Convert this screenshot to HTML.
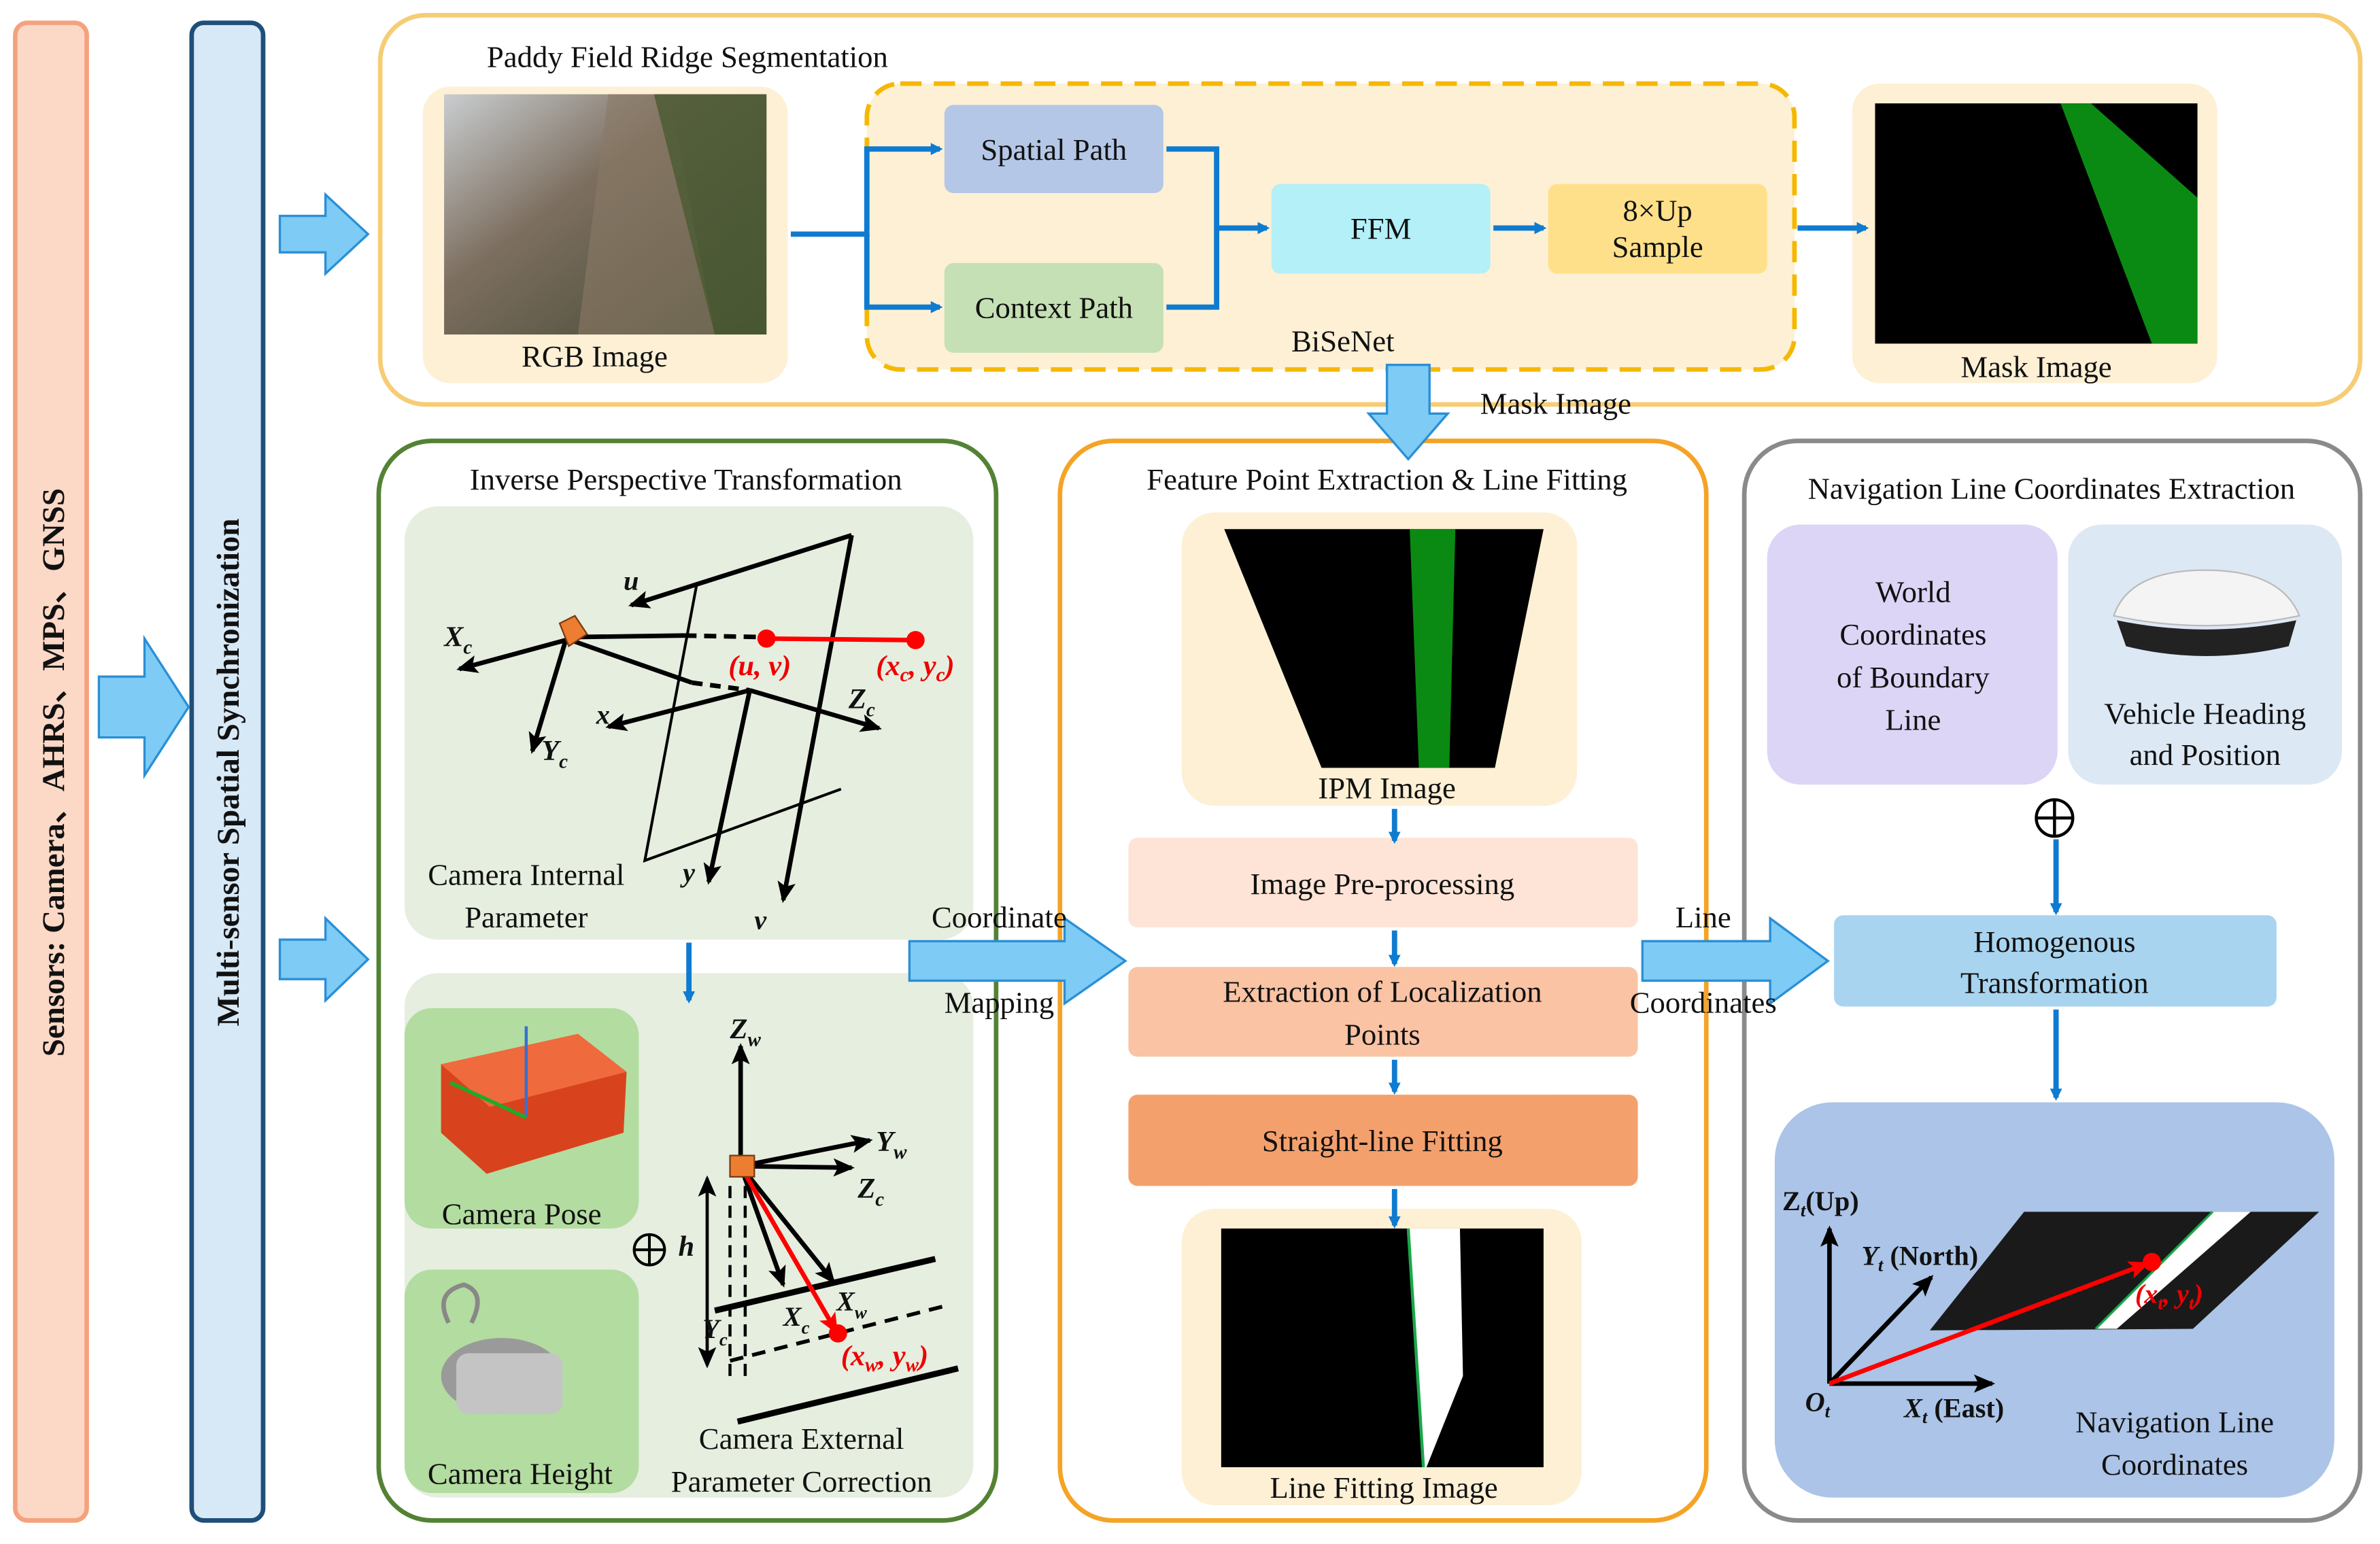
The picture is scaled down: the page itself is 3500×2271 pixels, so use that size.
<!DOCTYPE html>
<html><head><meta charset="utf-8"><style>
html,body{margin:0;padding:0;background:#fff;}
svg{display:block;font-family:"Liberation Serif","Times New Roman",Times,serif;}
svg text{font-family:"Liberation Serif","Times New Roman",Times,serif;fill:#111;}
.t{font-size:20px;text-anchor:middle;}
.b{font-weight:bold;font-style:italic;}
</style></head><body>
<svg width="3500" height="2271" viewBox="0 0 1565 1015.5" xmlns="http://www.w3.org/2000/svg">
<defs>
<marker id="ab" markerWidth="8" markerHeight="8" refX="6" refY="4" orient="auto" markerUnits="userSpaceOnUse"><path d="M0,0 L8,4 L0,8 z" fill="#0f7bd0"/></marker>
<marker id="ak" markerWidth="14" markerHeight="12" refX="12" refY="6" orient="auto" markerUnits="userSpaceOnUse"><path d="M0,0 L14,6 L0,12 L3,6 z" fill="#000"/></marker>
<marker id="ar" markerWidth="14" markerHeight="12" refX="12" refY="6" orient="auto" markerUnits="userSpaceOnUse"><path d="M0,0 L14,6 L0,12 L3,6 z" fill="#f00"/></marker>
<linearGradient id="rgb" x1="0" y1="0" x2="1" y2="1"><stop offset="0" stop-color="#c9cdd0"/><stop offset="0.4" stop-color="#7d6f60"/><stop offset="0.7" stop-color="#5e5a48"/><stop offset="1" stop-color="#3e4a30"/></linearGradient>
</defs>
<rect x="10" y="15" width="47" height="985" rx="8" fill="#fcd8c6" stroke="#f4a27e" stroke-width="3"/>
<text transform="translate(42,508) rotate(-90)" text-anchor="middle" font-size="21" font-weight="bold">Sensors: Camera、AHRS、MPS、GNSS</text>
<rect x="126" y="15" width="47" height="985" rx="8" fill="#d7e8f6" stroke="#1f4e79" stroke-width="3"/>
<text transform="translate(157,508) rotate(-90)" text-anchor="middle" font-size="21" font-weight="bold">Multi-sensor Spatial Synchronization</text>
<rect x="250" y="10" width="1302" height="256" rx="30" fill="#fff" stroke="#f6cd75" stroke-width="3"/>
<text x="452" y="44" class="t">Paddy Field Ridge Segmentation</text>
<rect x="278" y="57" width="240" height="195" rx="18" fill="#fdf0d5"/>
<rect x="292" y="62" width="212" height="158" fill="url(#rgb)"/>
<path d="M400,62 L440,62 L470,220 L380,220 z" fill="#8a7a66" opacity="0.6"/>
<path d="M430,62 L504,62 L504,220 L470,220 z" fill="#4a5a32" opacity="0.8"/>
<text x="391" y="241" class="t">RGB Image</text>
<rect x="570" y="55" width="610" height="188" rx="22" fill="#fdf0d5" stroke="#f5b800" stroke-width="3" stroke-dasharray="14,8"/>
<rect x="621" y="69" width="144" height="58" rx="6" fill="#b4c7e7"/>
<text x="693" y="105" class="t" font-size="19">Spatial Path</text>
<rect x="621" y="173" width="144" height="59" rx="6" fill="#c5e0b4"/>
<text x="693" y="209" class="t" font-size="19">Context Path</text>
<rect x="836" y="121" width="144" height="59" rx="6" fill="#b3f0f8"/>
<text x="908" y="157" class="t" font-size="19">FFM</text>
<rect x="1018" y="121" width="144" height="59" rx="6" fill="#ffe08a"/>
<text x="1090" y="145" class="t" font-size="19">8×Up</text>
<text x="1090" y="169" class="t" font-size="19">Sample</text>
<text x="883" y="231" class="t">BiSeNet</text>
<rect x="1218" y="55" width="240" height="197" rx="18" fill="#fdf0d5"/>
<rect x="1233" y="68" width="212" height="158" fill="#000"/>
<path d="M1355,68 L1375,68 L1445,130 L1445,226 L1415,226 z" fill="#0a8a12"/>
<text x="1339" y="248" class="t">Mask Image</text>
<g stroke="#0f7bd0" stroke-width="3.5" fill="none">
<path d="M520,154 H570 V98 H618" marker-end="url(#ab)"/>
<path d="M570,154 V202 H618" marker-end="url(#ab)"/>
<path d="M767,98 H800 V202 H767"/>
<path d="M800,150 H833" marker-end="url(#ab)"/>
<path d="M982,150 H1015" marker-end="url(#ab)"/>
<path d="M1182,150 H1227" marker-end="url(#ab)"/>
</g>
<text x="1023" y="272" class="t">Mask Image</text>
<rect x="249" y="290" width="406" height="710" rx="35" fill="#fff" stroke="#548235" stroke-width="3"/>
<text x="451" y="322" class="t">Inverse Perspective Transformation</text>
<rect x="266" y="333" width="374" height="285" rx="22" fill="#e6eedf"/>
<g stroke="#000" stroke-width="3" fill="none">
<path d="M560,352 L415,398" marker-end="url(#ak)"/>
<path d="M560,352 L515,592" marker-end="url(#ak)"/>
<path d="M458,385 L424,566 L553,519" stroke-width="1.8"/>
<path d="M493,454 L400,478" marker-end="url(#ak)"/>
<path d="M493,454 L466,580" marker-end="url(#ak)"/>
<path d="M372,421 L302,440" marker-end="url(#ak)"/>
<path d="M372,421 L350,494" marker-end="url(#ak)"/>
<path d="M378,419 L450,418"/>
<path d="M450,418 L500,419" stroke-dasharray="8,5"/>
<path d="M378,422 L455,449" />
<path d="M455,449 L493,454" stroke-dasharray="7,5"/>
<path d="M493,454 L578,479" marker-end="url(#ak)"/>
</g>
<path d="M368,410 L378,405 L386,417 L374,425 z" fill="#ed7d31" stroke="#7a3a10"/>
<line x1="504" y1="420" x2="602" y2="421" stroke="#f00" stroke-width="3"/>
<circle cx="504" cy="420" r="6" fill="#f00"/><circle cx="602" cy="421" r="6" fill="#f00"/>
<text x="479" y="444" font-size="19" class="b" style="fill:#e00">(u, v)</text>
<text x="576" y="444" font-size="19" class="b" style="fill:#e00">(x<tspan font-size="13" dy="4">c</tspan><tspan dy="-4">, y</tspan><tspan font-size="13" dy="4">c</tspan><tspan dy="-4">)</tspan></text>
<text x="410" y="388" font-size="18" class="b">u</text>
<text x="292" y="425" font-size="19" class="b">X<tspan font-size="13" dy="5">c</tspan></text>
<text x="356" y="500" font-size="19" class="b">Y<tspan font-size="13" dy="5">c</tspan></text>
<text x="392" y="476" font-size="18" class="b">x</text>
<text x="558" y="466" font-size="19" class="b">Z<tspan font-size="13" dy="5">c</tspan></text>
<text x="449" y="580" font-size="18" class="b">y</text>
<text x="496" y="611" font-size="18" class="b">v</text>
<text x="346" y="582" class="t">Camera Internal</text>
<text x="346" y="610" class="t">Parameter</text>
<rect x="266" y="640" width="374" height="345" rx="22" fill="#e6eedf"/>
<line x1="453" y1="620" x2="453" y2="658" stroke="#0f7bd0" stroke-width="3.5" marker-end="url(#ab)"/>
<rect x="266" y="663" width="154" height="145" rx="18" fill="#b3dca0"/>
<path d="M290,700 L380,680 L412,705 L410,745 L320,772 L290,745 z" fill="#d8431e"/>
<path d="M290,700 L380,680 L412,705 L322,728 z" fill="#ef6a3c"/>
<line x1="346" y1="675" x2="346" y2="735" stroke="#3a6fd0" stroke-width="2"/>
<line x1="346" y1="735" x2="296" y2="712" stroke="#1faa2a" stroke-width="2.5"/>
<text x="343" y="805" class="t">Camera Pose</text>
<rect x="266" y="835" width="154" height="147" rx="18" fill="#b3dca0"/>
<ellipse cx="330" cy="905" rx="40" ry="25" fill="#9a9a9a"/>
<rect x="300" y="890" width="70" height="40" rx="8" fill="#c4c4c4"/>
<path d="M295,870 q-10,-20 10,-25 q15,5 5,25" fill="none" stroke="#888" stroke-width="3"/>
<text x="342" y="976" class="t">Camera Height</text>
<circle cx="427" cy="822" r="10" fill="none" stroke="#000" stroke-width="1.8"/>
<path d="M417,822 H437 M427,812 V832" stroke="#000" stroke-width="1.8"/>
<g stroke="#000" stroke-width="3" fill="none">
<path d="M487,767 L487,688" marker-end="url(#ak)"/>
<path d="M487,767 L572,750" marker-end="url(#ak)"/>
<path d="M487,767 L560,768" marker-end="url(#ak)"/>
<path d="M487,767 L515,845" marker-end="url(#ak)"/>
<path d="M487,767 L548,843" marker-end="url(#ak)"/>
<path d="M465,775 L465,898" stroke-width="2" marker-end="url(#ak)"/>
<path d="M465,898 L465,775" stroke-width="2" marker-end="url(#ak)"/>
<path d="M480,780 L480,905" stroke-dasharray="8,5" stroke-width="2"/>
<path d="M490,780 L490,905" stroke-dasharray="8,5" stroke-width="2"/>
<path d="M470,862 L615,828" stroke-width="4"/>
<path d="M480,895 L625,858" stroke-dasharray="9,6" stroke-width="2.5"/>
<path d="M485,935 L630,900" stroke-width="4"/>
</g>
<line x1="487" y1="767" x2="550" y2="876" stroke="#f00" stroke-width="3" marker-end="url(#ar)"/>
<rect x="480" y="760" width="16" height="14" fill="#ed7d31" stroke="#7a3a10"/>
<circle cx="551" cy="877" r="6" fill="#f00"/>
<text x="480" y="683" font-size="19" class="b">Z<tspan font-size="13" dy="5">w</tspan></text>
<text x="576" y="757" font-size="19" class="b">Y<tspan font-size="13" dy="5">w</tspan></text>
<text x="564" y="788" font-size="19" class="b">Z<tspan font-size="13" dy="5">c</tspan></text>
<text x="446" y="826" font-size="19" class="b">h</text>
<text x="462" y="880" font-size="18" class="b">Y<tspan font-size="12" dy="5">c</tspan></text>
<text x="515" y="872" font-size="18" class="b">X<tspan font-size="12" dy="5">c</tspan></text>
<text x="550" y="862" font-size="18" class="b">X<tspan font-size="12" dy="5">w</tspan></text>
<text x="553" y="898" font-size="19" class="b" style="fill:#e00">(x<tspan font-size="13" dy="4">w</tspan><tspan dy="-4">, y</tspan><tspan font-size="13" dy="4">w</tspan><tspan dy="-4">)</tspan></text>
<text x="527" y="953" class="t">Camera External</text>
<text x="527" y="981" class="t">Parameter Correction</text>
<rect x="697" y="290" width="425" height="710" rx="35" fill="#fff" stroke="#f5a326" stroke-width="3"/>
<text x="912" y="322" class="t">Feature Point Extraction &amp; Line Fitting</text>
<rect x="777" y="337" width="260" height="193" rx="22" fill="#fdf0d5"/>
<path d="M805,348 L1015,348 L983,505 L869,505 z" fill="#000"/>
<path d="M927,348 L957,348 L953,505 L933,505 z" fill="#0a8a12"/>
<text x="912" y="525" class="t">IPM Image</text>
<rect x="742" y="551" width="335" height="59" rx="6" fill="#fde4d6"/>
<text x="909" y="588" class="t">Image Pre-processing</text>
<rect x="742" y="636" width="335" height="59" rx="6" fill="#f9c3a4"/>
<text x="909" y="659" class="t">Extraction of Localization</text>
<text x="909" y="687" class="t">Points</text>
<rect x="742" y="720" width="335" height="60" rx="6" fill="#f4a06d"/>
<text x="909" y="757" class="t">Straight-line Fitting</text>
<rect x="777" y="795" width="263" height="195" rx="22" fill="#fdf0d5"/>
<rect x="803" y="808" width="212" height="157" fill="#000"/>
<path d="M926,808 L960,808 L962,905 L938,965 L936,965 z" fill="#fff"/>
<line x1="926" y1="808" x2="936" y2="965" stroke="#1aa84a" stroke-width="2"/>
<text x="910" y="985" class="t">Line Fitting Image</text>
<g stroke="#0f7bd0" stroke-width="3.5">
<line x1="917" y1="532" x2="917" y2="553" marker-end="url(#ab)"/>
<line x1="917" y1="612" x2="917" y2="634" marker-end="url(#ab)"/>
<line x1="917" y1="697" x2="917" y2="718" marker-end="url(#ab)"/>
<line x1="917" y1="782" x2="917" y2="806" marker-end="url(#ab)"/>
</g>
<rect x="1147" y="290" width="405" height="710" rx="35" fill="#fff" stroke="#8a8a8a" stroke-width="3"/>
<text x="1349" y="328" class="t">Navigation Line Coordinates Extraction</text>
<rect x="1162" y="345" width="191" height="171" rx="22" fill="#dcd5f6"/>
<text x="1258" y="396" class="t">World</text>
<text x="1258" y="424" class="t">Coordinates</text>
<text x="1258" y="452" class="t">of  Boundary</text>
<text x="1258" y="480" class="t">Line</text>
<rect x="1360" y="345" width="180" height="171" rx="22" fill="#dde8f5"/>
<path d="M1390,405 Q1400,375 1450,375 Q1500,375 1512,405 Q1450,418 1390,405 z" fill="#f4f4f4" stroke="#bbb"/>
<path d="M1392,408 Q1450,420 1510,408 L1505,425 Q1450,438 1398,425 z" fill="#222"/>
<text x="1450" y="476" class="t">Vehicle Heading</text>
<text x="1450" y="503" class="t">and Position</text>
<circle cx="1351" cy="538" r="12" fill="none" stroke="#000" stroke-width="2"/>
<path d="M1339,538 H1363 M1351,526 V550" stroke="#000" stroke-width="2"/>
<line x1="1352" y1="552" x2="1352" y2="600" stroke="#0f7bd0" stroke-width="3.5" marker-end="url(#ab)"/>
<rect x="1206" y="602" width="291" height="60" rx="6" fill="#a9d4ef"/>
<text x="1351" y="626" class="t">Homogenous</text>
<text x="1351" y="653" class="t">Transformation</text>
<line x1="1352" y1="664" x2="1352" y2="722" stroke="#0f7bd0" stroke-width="3.5" marker-end="url(#ab)"/>
<rect x="1167" y="725" width="368" height="260" rx="38" fill="#abc4e7"/>
<path d="M1331,797 L1525,797 L1442,874 L1269,875 z" fill="#1a1a1a"/>
<path d="M1455,797 L1480,797 L1392,874 L1378,874 z" fill="#fff"/>
<line x1="1455" y1="797" x2="1378" y2="874" stroke="#1aa84a" stroke-width="1.5"/>
<g stroke="#000" stroke-width="3" fill="none">
<path d="M1203,910 L1203,808" marker-end="url(#ak)"/>
<path d="M1203,910 L1270,840" marker-end="url(#ak)"/>
<path d="M1203,910 L1310,910" marker-end="url(#ak)"/>
</g>
<line x1="1203" y1="910" x2="1412" y2="831" stroke="#f00" stroke-width="3" marker-end="url(#ar)"/>
<circle cx="1415" cy="830" r="6" fill="#f00"/>
<text x="1404" y="857" font-size="18" class="b" style="fill:#e00">(x<tspan font-size="12" dy="4">t</tspan><tspan dy="-4">, y</tspan><tspan font-size="12" dy="4">t</tspan><tspan dy="-4">)</tspan></text>
<text x="1172" y="796" font-size="18" font-weight="bold">Z<tspan font-size="12" dy="4" font-style="italic">t</tspan><tspan dy="-4">(Up)</tspan></text>
<text x="1224" y="832" font-size="18" font-weight="bold"><tspan font-style="italic">Y</tspan><tspan font-size="12" dy="4" font-style="italic">t</tspan><tspan dy="-4"> (North)</tspan></text>
<text x="1187" y="928" font-size="18" class="b">O<tspan font-size="12" dy="4">t</tspan></text>
<text x="1252" y="932" font-size="18" font-weight="bold"><tspan font-style="italic">X</tspan><tspan font-size="12" dy="4" font-style="italic">t</tspan><tspan dy="-4"> (East)</tspan></text>
<text x="1430" y="942" class="t">Navigation Line</text>
<text x="1430" y="970" class="t">Coordinates</text>
<g fill="#7ecbf5" stroke="#2a8fd6" stroke-width="1.5">
<path d="M65,445 H95 V420 L124,465 L95,510 V485 H65 z"/>
<path d="M184,142 H214 V128 L242,154 L214,180 V166 H184 z"/>
<path d="M184,618 H214 V604 L242,631 L214,658 V644 H184 z"/>
<path d="M912,240 H940 V272 H952 L926,302 L900,272 H912 z"/>
<path d="M598,619 H700 V604 L740,632 L700,660 V645 H598 z"/>
<path d="M1080,619 H1164 V604 L1202,632 L1164,660 V645 H1080 z"/>
</g>
<text x="657" y="610" class="t">Coordinate</text>
<text x="657" y="666" class="t">Mapping</text>
<text x="1120" y="610" class="t">Line</text>
<text x="1120" y="666" class="t">Coordinates</text>
</svg>
</body></html>
